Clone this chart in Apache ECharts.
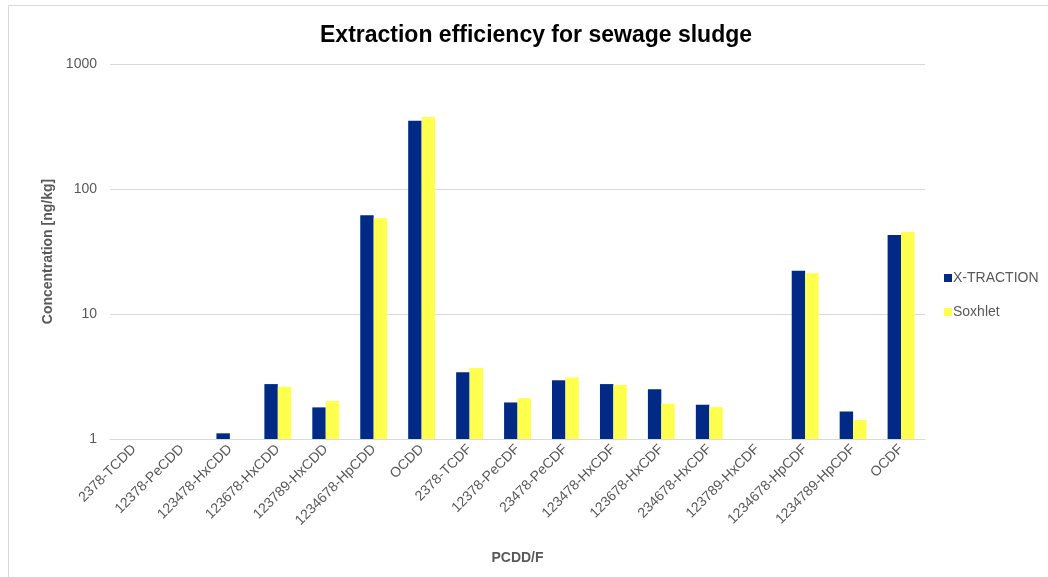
<!DOCTYPE html>
<html>
<head>
<meta charset="utf-8">
<script src="https://cdn.jsdelivr.net/npm/echarts@6/dist/echarts.min.js"></script>
<style>
html,body{margin:0;padding:0;background:#fff;}
#chart{width:1048px;height:577px;}
</style>
</head>
<body>
<div id="chart"></div>
<script>
var categories = ['2378-TCDD','12378-PeCDD','123478-HxCDD','123678-HxCDD','123789-HxCDD','1234678-HpCDD','OCDD','2378-TCDF','12378-PeCDF','23478-PeCDF','123478-HxCDF','123678-HxCDF','234678-HxCDF','123789-HxCDF','1234678-HpCDF','1234789-HpCDF','OCDF'];
var xtraction = [null, null, 1.11, 2.75, 1.79, 61.6, 352, 3.42, 1.96, 2.95, 2.75, 2.50, 1.88, null, 22.2, 1.66, 42.9];
var soxhlet = [null, null, null, 2.62, 2.01, 58.3, 377, 3.70, 2.12, 3.11, 2.70, 1.92, 1.80, null, 21.2, 1.42, 45.3];

var chart = echarts.init(document.getElementById('chart'));
chart.setOption({
  backgroundColor: '#fff',
  animation: false,
  graphic: [{
    type: 'rect',
    shape: {x: 8.5, y: 5.5, width: 1100, height: 600},
    style: {fill: 'none', stroke: '#d9d9d9', lineWidth: 1},
    silent: true
  }],
  title: {
    text: 'Extraction efficiency for sewage sludge',
    left: 315,
    top: 19,
    textStyle: {fontFamily: 'Liberation Sans, Arial', fontSize: 23, fontWeight: 'bold', color: '#000'}
  },
  legend: {
    orient: 'vertical',
    left: 939,
    top: 266,
    itemWidth: 8,
    itemHeight: 8,
    itemGap: 20,
    icon: 'rect',
    textStyle: {fontFamily: 'Liberation Sans, Arial', fontSize: 14, color: '#595959', padding: [0,0,0,-4]},
    data: ['X-TRACTION', 'Soxhlet']
  },
  grid: {left: 110, right: 123, top: 64, bottom: 138, containLabel: false},
  xAxis: {
    type: 'category',
    data: categories,
    name: 'PCDD/F',
    nameLocation: 'middle',
    nameGap: 112,
    nameTextStyle: {fontFamily: 'Liberation Sans, Arial', fontSize: 14, fontWeight: 'bold', color: '#595959'},
    axisLine: {show: true, lineStyle: {color: '#d9d9d9'}},
    axisTick: {show: false},
    axisLabel: {rotate: 45, interval: 0, fontFamily: 'Liberation Sans, Arial', fontSize: 14, color: '#595959', margin: 8}
  },
  yAxis: {
    type: 'log',
    logBase: 10,
    min: 1,
    max: 1000,
    name: 'Concentration [ng/kg]',
    nameLocation: 'middle',
    nameGap: 51,
    nameTextStyle: {fontFamily: 'Liberation Sans, Arial', fontSize: 14, fontWeight: 'bold', color: '#595959'},
    axisLine: {show: false},
    axisTick: {show: false},
    axisLabel: {fontFamily: 'Liberation Sans, Arial', fontSize: 14, color: '#595959', margin: 13, formatter: function (v) { return String(v); }},
    splitLine: {lineStyle: {color: '#d9d9d9'}}
  },
  series: [
    {name: 'X-TRACTION', type: 'bar', data: xtraction, barGap: '0%', barCategoryGap: '44%', itemStyle: {color: '#002A86'}},
    {name: 'Soxhlet', type: 'bar', data: soxhlet, itemStyle: {color: '#FFFF4D'}}
  ]
});
</script>
</body>
</html>
